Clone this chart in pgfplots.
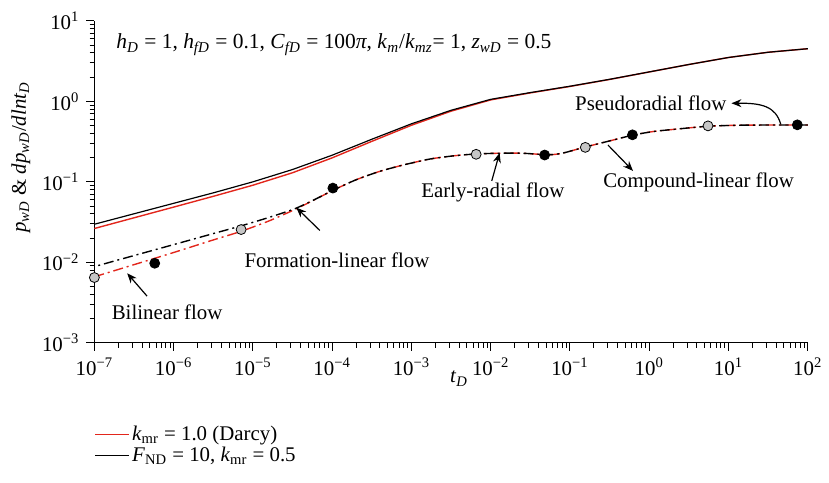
\documentclass[border=0pt]{standalone}
\usepackage{fontspec}
\setmainfont{Liberation Serif}
\usepackage{pgfplots}
\pgfplotsset{compat=1.18}
\usetikzlibrary{arrows.meta}
\definecolor{curvered}{RGB}{226,38,28}
\definecolor{markgray}{RGB}{198,198,198}
\newcommand{\sub}[1]{\textsubscript{#1}}
\newcommand{\iv}[1]{\textit{#1}}

% dimensionless pressure, Darcy case
\pgfplotstableread{
t        p
1e-7     0.02630
3.162e-7 0.03573
1e-6     0.04853
3.162e-6 0.06607
1e-5     0.09078
3.162e-5 0.1297
1e-4     0.1986
3.162e-4 0.3184
1e-3     0.5047
3.162e-3 0.7551
1e-2     1.0423
3.162e-2 1.2735
0.1      1.5311
0.3162   1.8707
1        2.3174
3.162    2.8708
10       3.5075
31.62    4.0738
100      4.5082
}\pdarcy
% dimensionless pressure, non-Darcy case
\pgfplotstableread{
t        p
1e-7     0.02972
3.162e-7 0.04009
1e-6     0.05408
3.162e-6 0.07295
1e-5     0.1000
3.162e-5 0.1422
1e-4     0.2143
3.162e-4 0.3381
1e-3     0.5260
3.162e-3 0.7745
1e-2     1.0593
3.162e-2 1.2853
0.1      1.5417
0.3162   1.8793
1        2.3227
3.162    2.8708
10       3.5075
31.62    4.0738
100      4.5082
}\pnd
% pressure derivative, Darcy case
\pgfplotstableread{
t        d
1e-7     0.006607
3.162e-7 0.009354
1e-6     0.01324
3.162e-6 0.01897
7.096e-6 0.02427
1.585e-5 0.03258
3.365e-5 0.04519
6.310e-5 0.06138
1.023e-4 0.07852
1.995e-4 0.1059
3.981e-4 0.1349
7.943e-4 0.1622
1.722e-3 0.1923
3.548e-3 0.2113
6.486e-3 0.2218
0.01259  0.2265
0.02512  0.2265
0.04753  0.2178
0.06310  0.2188
0.08222  0.2280
0.1122   0.2477
0.1549   0.2704
0.3097   0.3206
0.6194   0.3802
1.122    0.4217
2.143    0.4508
5.546    0.4909
14.79    0.5058
51.17    0.5082
100      0.5082
}\ddarcy
% pressure derivative, non-Darcy case
\pgfplotstableread{
t        d
1e-7     0.008851
3.162e-7 0.01213
1e-6     0.01660
3.162e-6 0.02275
7.096e-6 0.02838
1.585e-5 0.03606
3.365e-5 0.04624
6.310e-5 0.06166
1.023e-4 0.07852
1.995e-4 0.1059
3.981e-4 0.1349
7.943e-4 0.1622
1.722e-3 0.1923
3.548e-3 0.2113
6.486e-3 0.2218
0.01259  0.2265
0.02512  0.2265
0.04753  0.2178
0.06310  0.2188
0.08222  0.2280
0.1122   0.2477
0.1549   0.2704
0.3097   0.3206
0.6194   0.3802
1.122    0.4217
2.143    0.4508
5.546    0.4909
14.79    0.5058
51.17    0.5082
100      0.5082
}\dnd
% flow-regime boundaries
\pgfplotstableread{
t        d
1e-7     0.00647
7.10e-6  0.02553
6.55e-3  0.2198
0.156    0.2680
5.51     0.4955
}\markopen
\pgfplotstableread{
t        d
5.77e-7  0.00973
1.02e-4  0.0836
0.0479   0.2153
0.614    0.3837
73.8     0.5105
}\markfull

\begin{document}
\begin{tikzpicture}[font=\fontsize{10.5}{12}\selectfont]
\begin{axis}[
  scale only axis, width=359pt, height=162pt,
  xmode=log, ymode=log,
  xmin=1e-7, xmax=1e2, ymin=1e-3, ymax=1e1,
  axis lines*=left,
  axis line style={line width=0.6pt, -},
  tick align=outside,
  tick style={black, line width=0.5pt},
  major tick length=4pt, minor tick length=2.4pt,
  xtick={1e-7,1e-6,1e-5,1e-4,1e-3,1e-2,1e-1,1,10,100},
  xticklabels={10\textsuperscript{−7},10\textsuperscript{−6},10\textsuperscript{−5},10\textsuperscript{−4},10\textsuperscript{−3},10\textsuperscript{−2},10\textsuperscript{−1},10\textsuperscript{0},10\textsuperscript{1},10\textsuperscript{2}},
  minor xtick={2e-7,3e-7,4e-7,5e-7,6e-7,7e-7,8e-7,9e-7,
    2e-6,3e-6,4e-6,5e-6,6e-6,7e-6,8e-6,9e-6,
    2e-5,3e-5,4e-5,5e-5,6e-5,7e-5,8e-5,9e-5,
    2e-4,3e-4,4e-4,5e-4,6e-4,7e-4,8e-4,9e-4,
    2e-3,3e-3,4e-3,5e-3,6e-3,7e-3,8e-3,9e-3,
    0.02,0.03,0.04,0.05,0.06,0.07,0.08,0.09,
    0.2,0.3,0.4,0.5,0.6,0.7,0.8,0.9,
    2,3,4,5,6,7,8,9,20,30,40,50,60,70,80,90},
  ytick={1e-3,1e-2,1e-1,1,10},
  yticklabels={10\textsuperscript{−3},10\textsuperscript{−2},10\textsuperscript{−1},10\textsuperscript{0},10\textsuperscript{1}},
  minor ytick={2e-3,3e-3,4e-3,5e-3,6e-3,7e-3,8e-3,9e-3,
    0.02,0.03,0.04,0.05,0.06,0.07,0.08,0.09,
    0.2,0.3,0.4,0.5,0.6,0.7,0.8,0.9,
    2,3,4,5,6,7,8,9},
  ticklabel style={font=\fontsize{10.5}{12}\selectfont},
  xlabel={\iv{t}\sub{\iv{D}}},
  xlabel style={at={(axis description cs:0.511,-0.111)}, anchor=center},
  ylabel={\iv{p}\sub{\iv{wD}} \& \iv{dp}\sub{\iv{wD}}/\iv{d}\iv{lnt}\sub{\iv{D}}},
  ylabel style={at={(axis description cs:-0.103,0.577)}, anchor=center},
  legend style={at={(axis description cs:0,-0.25)}, anchor=north west,
    draw=none, fill=none, inner sep=0pt, row sep=0pt,
    font=\fontsize{10.5}{12}\selectfont,
    nodes={inner sep=1pt}},
  legend cell align=left,
  clip=false,
]
\addplot[curvered, line width=0.7pt] table[x=t, y=p] {\pdarcy};
\addlegendentry{\iv{k}\sub{mr} = 1.0 (Darcy)}
\addplot[black, line width=0.6pt] table[x=t, y=p] {\pnd};
\addlegendentry{\iv{F}\sub{ND} = 10, \iv{k}\sub{mr} = 0.5}

\addplot[forget plot, curvered, line width=0.7pt, smooth, tension=0.4,
  dash pattern=on 5pt off 2pt on 1pt off 2pt] table[x=t, y=d] {\ddarcy};
\addplot[forget plot, black, line width=0.7pt, smooth, tension=0.4,
  dash pattern=on 5pt off 2pt on 1pt off 2pt, dash phase=5pt] table[x=t, y=d] {\dnd};

\addplot[forget plot, only marks, mark=*, mark size=2.5pt,
  mark options={fill=markgray, draw=black, line width=0.4pt}] table[x=t, y=d] {\markopen};
\addplot[forget plot, only marks, mark=*, mark size=2.5pt,
  mark options={fill=black, draw=black}] table[x=t, y=d] {\markfull};

% parameter line
\node[anchor=west, font=\fontsize{10.8}{12}\selectfont] at (rel axis cs:0.021,0.926)
  {\iv{h}\sub{\iv{D}} = 1, \iv{h}\sub{\iv{fD}} = 0.1, \iv{C}\sub{\iv{fD}} = 100\iv{π}, \iv{k}\sub{\iv{m}}/\iv{k}\sub{\iv{mz}}= 1, \iv{z}\sub{\iv{wD}} = 0.5};

% flow-regime labels
\node at (rel axis cs:0.102,0.096) {Bilinear flow};
\draw[-{Stealth[length=5pt,width=4pt]}, line width=0.6pt]
  (rel axis cs:0.0738,0.145) -- (rel axis cs:0.046,0.216);
\node at (rel axis cs:0.340,0.256) {Formation-linear flow};
\draw[-{Stealth[length=5pt,width=4pt]}, line width=0.6pt]
  (rel axis cs:0.316,0.349) -- (rel axis cs:0.283,0.420);
\node at (rel axis cs:0.5585,0.466) {Early-radial flow};
\draw[-{Stealth[length=5pt,width=4pt]}, line width=0.6pt]
  (rel axis cs:0.557,0.503) -- (rel axis cs:0.568,0.590);
\node at (rel axis cs:0.847,0.497) {Compound-linear flow};
\draw[-{Stealth[length=5pt,width=4pt]}, line width=0.6pt]
  (rel axis cs:0.720,0.614) -- (rel axis cs:0.755,0.534);
\node at (rel axis cs:0.780,0.744) {Pseudoradial flow};
\draw[-{Stealth[length=5pt,width=4pt]}, line width=0.6pt]
  (rel axis cs:0.962,0.679) .. controls (rel axis cs:0.955,0.735) and (rel axis cs:0.935,0.745) .. (rel axis cs:0.893,0.744);
\end{axis}
\path (-47.5pt,-70.5pt) rectangle (367pt,172.5pt);
\end{tikzpicture}
\end{document}
